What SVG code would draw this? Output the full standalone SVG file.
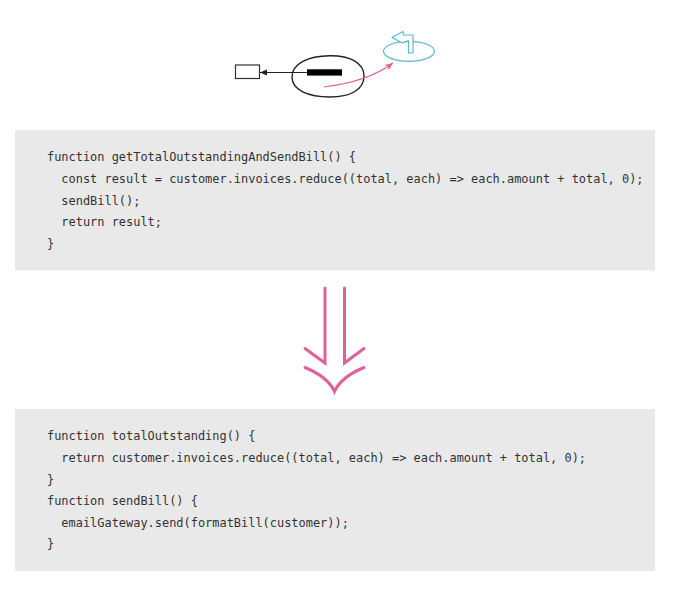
<svg xmlns="http://www.w3.org/2000/svg" width="673" height="597" viewBox="0 0 673 597">
<style>
.box{fill:#e8e9e8}
.code{font-family:"DejaVu Sans Mono","Liberation Mono",monospace;font-size:11.95px;fill:#333}
.pink{fill:none;stroke:#e0609b;stroke-width:3;stroke-linecap:round}
</style>
<defs>
<marker id="ah" markerWidth="8" markerHeight="8" refX="7" refY="4" orient="auto" markerUnits="userSpaceOnUse">
<path d="M0,1 L7,4 L0,7 Z" fill="#222"/>
</marker>
<marker id="ahp" markerWidth="9" markerHeight="9" refX="8" refY="4.5" orient="auto" markerUnits="userSpaceOnUse">
<path d="M0,1 L8,4.5 L0,8 L2,4.5 Z" fill="#e0609b"/>
</marker>
</defs>
<g id="icon">
<rect x="235.5" y="65" width="24" height="13.5" fill="#fff" stroke="#333" stroke-width="1.2"/>
<path d="M330,55.7 C350,55.5 364,63 364,76 C364,90 350,97 330,97 C308,97 292,90 292,77 C292,64 307,56 330,55.7 Z" fill="#fff" stroke="#222" stroke-width="1.4"/>
<rect x="307" y="69.3" width="35" height="6.3" fill="#000"/>
<ellipse cx="409" cy="51.3" rx="25.5" ry="10" fill="none" stroke="#5ab7cc" stroke-width="1.2"/>
<polygon points="392,37.5 403,31.5 403.5,34.8 413,35 413,53 408.5,53 408.5,40.5 402.5,43" fill="#fff" stroke="#5ab7cc" stroke-width="1.2" stroke-linejoin="round"/>
</g>
<g id="connectors">
<line x1="307" y1="72.5" x2="260" y2="72.5" stroke="#222" stroke-width="1.2" marker-end="url(#ah)"/>
<path d="M324,87 Q368,81.6 393,63" fill="none" stroke="#e0609b" stroke-width="1.2" marker-end="url(#ahp)"/>
<g id="big-arrow">
<path class="pink" d="M325,288 L325,363 L305,348.5"/>
<path class="pink" d="M344.5,288 L344.5,363 L364,348.5"/>
<path class="pink" d="M305,367.5 Q328,377 334.5,391.5 Q341,377 364,367.5"/>
</g>
</g>
<g id="before">
<rect class="box" x="15" y="130" width="640" height="140.5"/>
<text class="code" x="47" y="161">function getTotalOutstandingAndSendBill() {</text>
<text class="code" x="47" y="183" xml:space="preserve">  const result = customer.invoices.reduce((total, each) =&gt; each.amount + total, 0);</text>
<text class="code" x="47" y="204.5" xml:space="preserve">  sendBill();</text>
<text class="code" x="47" y="226" xml:space="preserve">  return result;</text>
<text class="code" x="47" y="248">}</text>
</g>
<g id="after">
<rect class="box" x="15" y="409" width="640" height="162"/>
<text class="code" x="47" y="440">function totalOutstanding() {</text>
<text class="code" x="47" y="462" xml:space="preserve">  return customer.invoices.reduce((total, each) =&gt; each.amount + total, 0);</text>
<text class="code" x="47" y="483.5">}</text>
<text class="code" x="47" y="505">function sendBill() {</text>
<text class="code" x="47" y="526.5" xml:space="preserve">  emailGateway.send(formatBill(customer));</text>
<text class="code" x="47" y="548">}</text>
</g>
</svg>
